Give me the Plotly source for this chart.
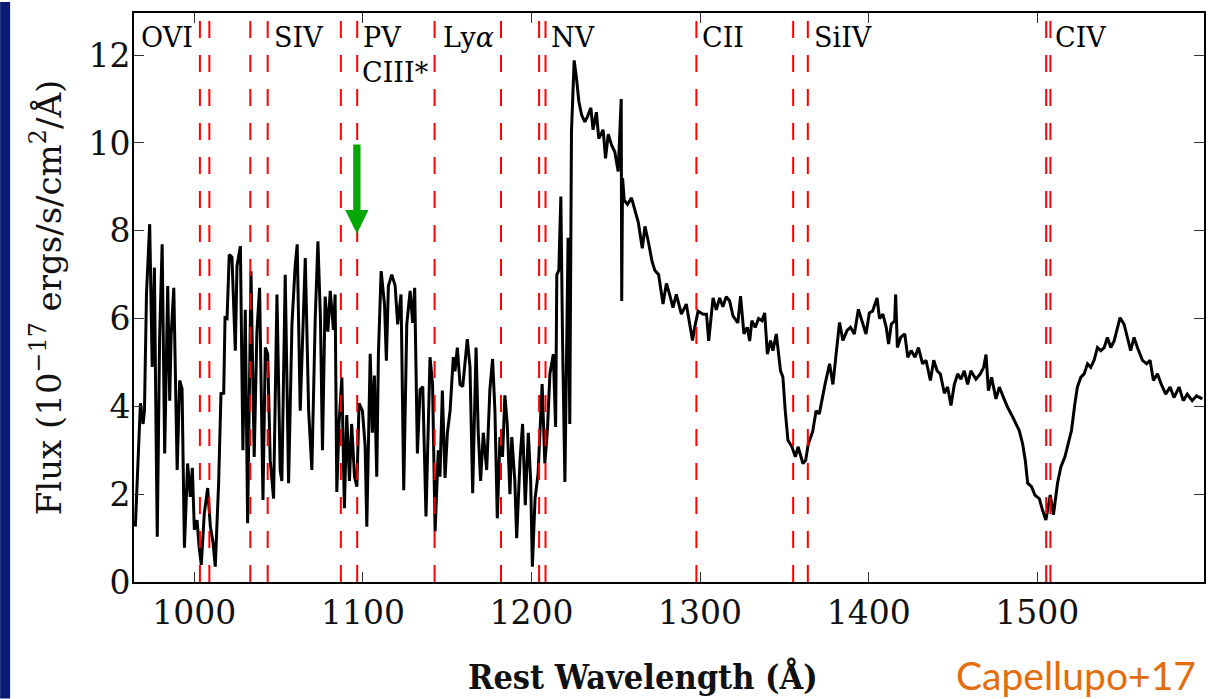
import plotly.graph_objects as go

# --- spectrum (rest wavelength in A, flux in 1e-17 cgs) ---
wave = [
    965.0, 967.0, 968.0, 969.6, 970.4, 971.6, 973.5, 975.0, 976.3, 977.4,
    978.0, 979.4, 980.9, 982.4, 984.2, 985.4, 986.2, 987.8, 989.8, 991.3,
    992.7, 994.1, 996.0, 997.6, 998.8, 1000.0, 1001.6, 1002.8, 1004.1, 1005.9,
    1007.9, 1009.5, 1011.1, 1012.4, 1014.4, 1015.8, 1017.4, 1018.2, 1019.4, 1020.7,
    1022.3, 1024.3, 1025.3, 1027.3, 1028.8, 1030.2, 1031.6, 1033.6, 1035.5, 1037.1,
    1038.7, 1040.7, 1042.1, 1043.5, 1045.0, 1047.0, 1049.0, 1050.9, 1051.9, 1053.9,
    1055.9, 1057.9, 1059.8, 1061.0, 1062.8, 1065.8, 1067.8, 1069.7, 1071.7, 1073.3,
    1074.8, 1076.0, 1077.6, 1079.2, 1080.6, 1082.5, 1083.5, 1084.5, 1085.8, 1087.5,
    1089.0, 1090.4, 1092.0, 1093.3, 1095.0, 1096.4, 1097.7, 1099.7, 1101.3, 1102.3,
    1104.3, 1105.6, 1106.8, 1108.2, 1109.2, 1110.8, 1112.8, 1113.9, 1115.1, 1117.1,
    1119.1, 1120.6, 1122.6, 1124.2, 1126.0, 1128.0, 1129.5, 1130.7, 1132.3, 1133.9,
    1135.5, 1137.4, 1139.8, 1141.3, 1142.8, 1144.7, 1145.7, 1147.1, 1148.7, 1150.1,
    1151.7, 1153.6, 1154.6, 1156.0, 1157.6, 1159.2, 1160.6, 1161.9, 1163.5, 1165.1,
    1167.1, 1168.4, 1169.8, 1171.4, 1173.4, 1175.3, 1176.9, 1178.3, 1179.7, 1181.3,
    1182.8, 1184.2, 1185.6, 1187.2, 1188.3, 1190.1, 1191.2, 1193.2, 1194.7, 1196.3,
    1198.1, 1199.5, 1200.5, 1202.1, 1203.9, 1205.0, 1206.3, 1207.9, 1209.5, 1210.9,
    1212.9, 1214.3, 1215.0, 1216.2, 1217.4, 1218.4, 1219.8, 1221.7, 1222.7, 1223.7,
    1225.3, 1226.6, 1228.1, 1229.7, 1231.6, 1233.2, 1235.2, 1236.5, 1238.5, 1239.9,
    1242.5, 1243.9, 1245.5, 1247.5, 1249.4, 1251.4, 1252.5, 1253.2, 1253.5, 1254.0,
    1255.0, 1256.9, 1259.3, 1261.3, 1263.3, 1265.7, 1267.3, 1269.3, 1271.5, 1273.1,
    1275.4, 1278.0, 1280.0, 1281.9, 1283.9, 1285.9, 1288.9, 1291.8, 1293.8, 1295.5,
    1296.8, 1298.8, 1301.8, 1303.8, 1305.1, 1307.7, 1309.6, 1311.6, 1313.5, 1315.5,
    1317.5, 1319.5, 1322.4, 1324.0, 1326.0, 1328.0, 1329.4, 1330.7, 1332.7, 1334.7,
    1336.7, 1338.3, 1339.9, 1341.8, 1343.2, 1345.2, 1347.7, 1349.1, 1350.5, 1352.1,
    1354.5, 1356.5, 1358.1, 1359.7, 1361.0, 1362.6, 1364.2, 1366.8, 1368.8, 1370.7,
    1372.8, 1374.1, 1376.8, 1378.8, 1380.7, 1382.7, 1384.7, 1387.2, 1389.2, 1391.5,
    1393.9, 1395.9, 1398.4, 1400.4, 1402.3, 1405.0, 1406.4, 1408.4, 1410.4, 1411.8,
    1413.4, 1415.4, 1416.0, 1417.0, 1419.0, 1421.4, 1423.2, 1425.2, 1427.5, 1429.5,
    1432.0, 1434.0, 1436.6, 1438.6, 1440.6, 1442.5, 1444.9, 1446.8, 1448.8, 1450.8,
    1452.8, 1454.7, 1456.7, 1458.7, 1460.6, 1463.6, 1466.2, 1468.2, 1469.6, 1471.0,
    1472.9, 1475.5, 1477.5, 1480.0, 1482.4, 1485.4, 1487.4, 1489.3, 1491.3, 1492.9,
    1494.3, 1496.6, 1498.6, 1501.2, 1503.1, 1505.1, 1507.7, 1509.6, 1512.0, 1514.0,
    1516.4, 1518.3, 1520.3, 1522.3, 1523.8, 1525.8, 1527.8, 1529.8, 1531.7, 1533.7,
    1535.7, 1537.7, 1539.7, 1541.6, 1543.6, 1545.6, 1547.5, 1549.1, 1551.5, 1553.4,
    1555.4, 1557.4, 1559.4, 1562.4, 1564.9, 1566.9, 1568.9, 1571.3, 1573.6, 1576.2,
    1578.8, 1581.1, 1584.1, 1586.6, 1589.0, 1591.9, 1594.5, 1597.9,
]
flux = [
    1.26, 3.23, 4.07, 3.6, 3.9, 6.56, 8.15, 4.9, 7.16, 3.0,
    1.03, 5.57, 7.69, 2.93, 6.74, 4.13, 5.6, 6.7, 2.55, 4.59,
    4.4, 0.78, 2.7, 1.94, 2.6, 1.19, 1.41, 0.81, 0.39, 1.56,
    2.14, 1.26, 0.9, 0.35, 2.25, 4.29, 4.3, 6.02, 6.0, 7.46,
    7.4, 5.27, 7.2, 7.65, 3.0, 6.2, 1.34, 7.08, 2.85, 5.7,
    6.7, 1.87, 5.34, 5.2, 2.77, 1.9, 6.55, 2.55, 2.3, 7.0,
    2.25, 5.87, 7.2, 7.69, 3.9, 7.38, 3.9, 2.55, 6.0, 7.76,
    6.0, 3.0, 6.5, 5.7, 6.63, 5.74, 6.55, 2.05, 3.6, 4.66,
    1.68, 3.8, 2.3, 3.6, 2.4, 2.17, 4.07, 3.9, 3.1, 1.26,
    5.2, 3.4, 4.7, 2.4, 5.23, 7.08, 6.32, 5.04, 6.74, 7.0,
    6.75, 5.87, 6.55, 2.09, 5.87, 6.63, 5.9, 6.7, 2.93, 4.38,
    4.45, 1.49, 5.12, 4.5, 1.15, 3.0, 2.4, 4.36, 2.37, 3.4,
    3.9, 5.12, 4.8, 5.34, 4.5, 4.45, 5.1, 5.53, 4.9, 2.02,
    5.34, 3.4, 2.3, 3.4, 2.55, 4.38, 5.08, 3.9, 1.45, 3.3,
    2.85, 4.25, 3.6, 2.0, 3.3, 2.3, 1.0, 2.8, 3.6, 1.75,
    3.4, 2.3, 0.35, 1.9, 2.47, 3.38, 4.51, 2.7, 3.5, 4.74,
    5.19, 3.53, 7.0, 7.1, 8.78, 5.5, 2.28, 7.84, 3.6, 10.26,
    11.88, 11.5, 10.94, 10.64, 10.48, 10.6, 10.8, 10.3, 10.7, 10.1,
    10.3, 9.65, 10.2, 9.95, 9.8, 9.35, 10.4, 11.0, 6.4, 9.2,
    8.7, 8.6, 8.75, 8.45, 8.2, 7.6, 8.1, 7.75, 7.3, 7.1,
    7.0, 6.33, 6.8, 6.55, 6.25, 6.55, 6.1, 6.33, 5.87, 5.5,
    5.8, 6.17, 6.1, 6.1, 5.49, 6.47, 6.2, 6.47, 6.27, 6.5,
    6.4, 6.06, 5.9, 6.51, 5.65, 5.8, 5.49, 5.95, 5.8, 6.0,
    5.95, 6.13, 5.19, 5.5, 5.27, 5.65, 4.81, 4.67, 3.9, 3.23,
    3.08, 2.85, 3.08, 2.85, 2.7, 2.77, 3.15, 3.43, 3.9, 3.83,
    4.28, 4.5, 4.97, 4.5, 5.2, 5.91, 5.5, 5.73, 5.8, 5.65,
    6.21, 5.95, 5.65, 6.13, 6.17, 6.47, 6.0, 6.1, 5.8, 5.42,
    5.87, 5.95, 6.55, 5.34, 5.57, 5.65, 5.12, 5.27, 5.12, 5.34,
    4.97, 5.05, 4.59, 5.05, 4.81, 4.74, 4.3, 4.44, 4.02, 4.5,
    4.74, 4.62, 4.81, 4.5, 4.81, 4.62, 4.74, 4.89, 5.18, 4.36,
    4.66, 4.17, 4.44, 4.2, 3.98, 3.76, 3.6, 3.45, 3.15, 2.77,
    2.25, 2.17, 1.98, 1.9, 1.64, 1.41, 1.98, 1.53, 2.25, 2.62,
    2.85, 3.15, 3.45, 4.06, 4.44, 4.66, 4.74, 4.97, 4.89, 5.05,
    5.34, 5.27, 5.34, 5.57, 5.34, 5.49, 5.8, 6.02, 5.87, 5.57,
    5.27, 5.57, 5.34, 5.05, 4.97, 5.05, 4.59, 4.74, 4.5, 4.28,
    4.44, 4.2, 4.44, 4.13, 4.28, 4.13, 4.24, 4.17,
]

# absorption line positions (dashed red lines) and their labels
line_waves = [1003.3, 1008.9, 1033.2, 1043.5, 1086.9, 1096.6, 1142.5, 1181.9,
              1204.5, 1208.3, 1297.8, 1355.2, 1363.9, 1505.3, 1507.8]
label_text = ["OVI", "SIV", "PV", "CIII*", "Ly<i>α</i>", "NV", "CII", "SiIV", "CIV"]
label_x = [967.4, 1045.8, 1098.7, 1098.3, 1146.1, 1210.3, 1300.1, 1366.3, 1509.5]
label_y = [12.4, 12.4, 12.4, 11.6, 12.4, 12.4, 12.4, 12.4, 12.4]

# green arrow (tail -> head)
arrow_x = 1096.4
arrow_tail = 10.0
arrow_head = 7.94

W, H = 1217, 699
ML, MR, MT, MB = 134, 12, 11, 117
PW, PH = W - ML - MR, H - MT - MB
SERIF = "DejaVu Serif"


def px_x(p):
    # page pixel -> paper x
    return (p - ML) / PW


def px_y(p):
    # page pixel -> paper y
    return (MT + PH - p) / PH


fig = go.Figure()
fig.add_trace(go.Scatter(x=wave, y=flux, mode="lines",
                         line=dict(color="black", width=3),
                         hoverinfo="skip", showlegend=False))

for lw in line_waves:
    fig.add_shape(type="line", xref="x", yref="paper", x0=lw, x1=lw, y0=0, y1=1,
                  line=dict(color="#FF0000", width=2, dash="17px,17px"), layer="above")

for t, lx, ly in zip(label_text, label_x, label_y):
    fig.add_annotation(x=lx, y=ly, xref="x", yref="y", text=t, showarrow=False,
                       xanchor="left", yanchor="middle",
                       font=dict(family=SERIF, size=27, color="black"))

fig.add_annotation(x=arrow_x, y=arrow_head, ax=arrow_x, ay=arrow_tail,
                   xref="x", yref="y", axref="x", ayref="y", text="",
                   showarrow=True, arrowhead=2, arrowwidth=7.3, arrowsize=0.64,
                   arrowcolor="#00A800")

# x title (the slide crops the original figure, so it is not centred on the axes)
fig.add_annotation(x=px_x(643), y=px_y(677), xref="paper", yref="paper",
                   text="Rest Wavelength (Å)", showarrow=False,
                   xanchor="center", yanchor="middle",
                   font=dict(family="DejaVu Serif Condensed, DejaVu Serif",
                             size=34, color="#111111", weight="bold"))

# credit in the bottom right corner of the slide
fig.add_annotation(x=px_x(1199), y=px_y(675), xref="paper", yref="paper",
                   text="Capellupo+17", showarrow=False, xanchor="right", yanchor="middle",
                   font=dict(family="Lato", size=39, color="#E46C0A"))

# dark slide edge on the left
fig.add_shape(type="rect", xref="paper", yref="paper",
              x0=px_x(0), x1=px_x(10), y0=px_y(H), y1=px_y(0),
              fillcolor="#0B1A72", line=dict(width=0), layer="below")

axis_style = dict(showline=True, linecolor="black", linewidth=2, mirror="ticks",
                  ticks="inside", ticklen=10, tickwidth=1, tickcolor="#333333",
                  showgrid=False, zeroline=False,
                  tickfont=dict(family=SERIF, size=33, color="#111111"))

fig.update_xaxes(range=[964.2, 1598.9], tick0=1000, dtick=100, **axis_style)
fig.update_yaxes(range=[0, 12.96], tick0=0, dtick=2, ticklabelstandoff=-5,
                 title=dict(text="Flux (10<sup>−17</sup> ergs/s/cm<sup>2</sup>/Å)", standoff=17,
                            font=dict(family=SERIF, size=34, color="#111111")),
                 **axis_style)

fig.update_layout(width=W, height=H, margin=dict(l=ML, r=MR, t=MT, b=MB),
                  paper_bgcolor="white", plot_bgcolor="white")

# drop the browser's default body margin so the figure fills the window
fig.write_html("out.html", config={"displayModeBar": False},
               post_script="document.body.style.margin = '0';")
